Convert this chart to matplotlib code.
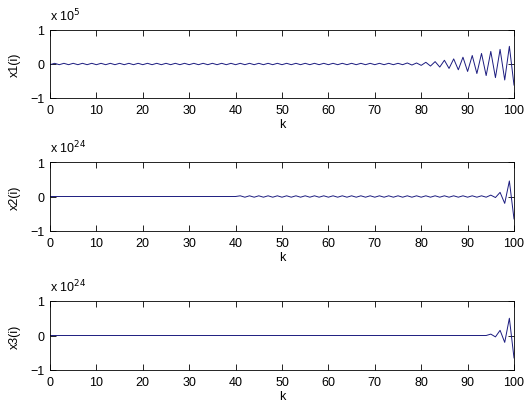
import numpy as np
import matplotlib
matplotlib.use("Agg")
import matplotlib.pyplot as plt

# sample index
k = np.arange(0, 101)

# x1(i), in units of 1e5
x1 = [
    -0.02, 0.02, -0.02, 0.02, -0.02, 0.02, -0.02, 0.02, -0.02, 0.02,
    -0.02, 0.02, -0.02, 0.02, -0.02, 0.02, -0.02, 0.02, -0.02, 0.02,
    -0.02, 0.02, -0.02, 0.02, -0.02, 0.02, -0.02, 0.02, -0.02, 0.02,
    -0.02, 0.02, -0.02, 0.02, -0.02, 0.02, -0.02, 0.02, -0.02, 0.02,
    -0.02, 0.02, -0.02, 0.02, -0.02, 0.02, -0.02, 0.02, -0.02, 0.02,
    -0.02, 0.02, -0.02, 0.02, -0.02, 0.02, -0.02, 0.02, -0.02, 0.02,
    -0.02, 0.02, -0.02, 0.02, -0.02, 0.02, -0.02, 0.02, -0.02, 0.02,
    -0.02, 0.02, -0.02, 0.02, -0.02, 0.02, -0.02, 0.03, -0.03, 0.03,
    -0.04, 0.05, -0.06, 0.07, -0.09, 0.11, -0.13, 0.15, -0.17, 0.20,
    -0.22, 0.25, -0.28, 0.31, -0.34, 0.37, -0.40, 0.43, -0.47, 0.52,
    -0.62,
]

# x2(i), in units of 1e24
x2 = [
    0.0, 0.0, 0.0, 0.0, 0.0, 0.0, 0.0, 0.0, 0.0, 0.0,
    0.0, 0.0, 0.0, 0.0, 0.0, 0.0, 0.0, 0.0, 0.0, 0.0,
    0.0, 0.0, 0.0, 0.0, 0.0, 0.0, 0.0, 0.0, 0.0, 0.0,
    0.0, 0.0, 0.0, 0.0, 0.0, 0.0, 0.0, 0.0, 0.0, 0.0,
    0.0, 0.02, -0.02, 0.02, -0.02, 0.02, -0.02, 0.02, -0.02, 0.02,
    -0.02, 0.02, -0.02, 0.02, -0.02, 0.02, -0.02, 0.02, -0.02, 0.02,
    -0.02, 0.02, -0.02, 0.02, -0.02, 0.02, -0.02, 0.02, -0.02, 0.02,
    -0.02, 0.02, -0.02, 0.02, -0.02, 0.02, -0.02, 0.02, -0.02, 0.02,
    -0.02, 0.02, -0.02, 0.02, -0.02, 0.02, -0.02, 0.02, -0.02, 0.02,
    -0.02, 0.02, -0.02, 0.02, -0.02, 0.04, -0.03, 0.12, -0.20, 0.45,
    -0.65,
]

# x3(i), in units of 1e24
x3 = [
    0.0, 0.0, 0.0, 0.0, 0.0, 0.0, 0.0, 0.0, 0.0, 0.0,
    0.0, 0.0, 0.0, 0.0, 0.0, 0.0, 0.0, 0.0, 0.0, 0.0,
    0.0, 0.0, 0.0, 0.0, 0.0, 0.0, 0.0, 0.0, 0.0, 0.0,
    0.0, 0.0, 0.0, 0.0, 0.0, 0.0, 0.0, 0.0, 0.0, 0.0,
    0.0, 0.0, 0.0, 0.0, 0.0, 0.0, 0.0, 0.0, 0.0, 0.0,
    0.0, 0.0, 0.0, 0.0, 0.0, 0.0, 0.0, 0.0, 0.0, 0.0,
    0.0, 0.0, 0.0, 0.0, 0.0, 0.0, 0.0, 0.0, 0.0, 0.0,
    0.0, 0.0, 0.0, 0.0, 0.0, 0.0, 0.0, 0.0, 0.0, 0.0,
    0.0, 0.0, 0.0, 0.0, 0.0, 0.0, 0.0, 0.0, 0.0, 0.0,
    0.0, 0.0, 0.0, 0.0, 0.0, 0.04, -0.04, 0.15, -0.20, 0.50,
    -0.65,
]

series = [x1, x2, x3]
ylabels = ["x1(i)", "x2(i)", "x3(i)"]
exponents = ["5", "24", "24"]
xticks = [0, 10, 20, 30, 40, 50, 60, 70, 80, 90, 100]
yticks = [-1, 0, 1]

plt.rcParams["font.family"] = ["Liberation Sans", "DejaVu Sans"]
plt.rcParams["font.size"] = 9

W, H = 524, 402
fig = plt.figure(figsize=(W / 100, H / 100), dpi=100, facecolor="white")

# axes boxes in pixels: (top, bottom)
boxes = [(31, 99), (163, 232), (302, 371)]
left, right = 50, 514

for (top, bottom), y, lab, ex in zip(boxes, series, ylabels, exponents):
    ax = fig.add_axes([left / W, 1 - bottom / H, (right - left) / W, (bottom - top) / H])
    ax.plot(k, y, color="#1c1c80", linewidth=0.7)
    ax.set_xlim(0, 100)
    ax.set_ylim(-1, 1)
    ax.set_xticks(xticks)
    ax.set_yticks(yticks)
    ax.tick_params(direction="in", length=4, width=0.6, top=True, right=True,
                   pad=4, labelsize=9)
    for sp in ax.spines.values():
        sp.set_linewidth(0.6)
    ax.set_xlabel("k", fontsize=9, labelpad=2)
    ax.set_ylabel(lab, fontsize=9, labelpad=7)
    ax.text(0.0, 1.1, "x 10$^{%s}$" % ex, transform=ax.transAxes,
            fontsize=9, ha="left", va="bottom")

plt.savefig("out.png", dpi=100, facecolor="white")
